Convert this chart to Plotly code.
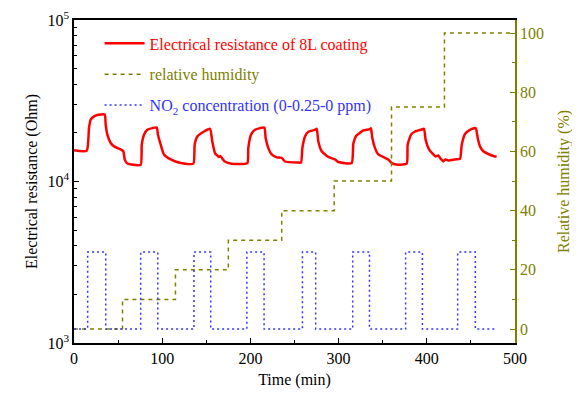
import plotly.graph_objects as go

# Electrical resistance of 8L coating (Ohm) vs time (min)
res_time = [0, 14.4, 17.0, 18.9, 22.7, 26.4, 34.8, 35.9, 37.8, 41.6, 45.4, 52.9, 55.9, 57.5, 59.8, 65, 75.6,
            76.8, 79.4, 83.1, 88.8, 93.8, 95.2, 98.3, 102, 109.6, 121, 135.3,
            136.8, 139.8, 147.4, 154.2, 156.8, 160, 162.5, 164, 166, 168, 171, 178.8, 196.5,
            197.6, 200.7, 205.2, 210.9, 215.8, 217.3, 220.3, 224.1, 229.8, 235.5, 239.2, 254.3, 257.4,
            258.9, 261.9, 265.7, 273.2, 275.2, 277, 280.8, 288.3, 295.9, 299.7, 314.8,
            316.7, 320, 324, 328, 335.6, 336.7, 338.2, 341.3, 345, 352.6, 356.3, 360.2, 367.7, 377.2,
            378.3, 382.1, 386.6, 394.2, 396.8, 398.7, 402.5, 407.4, 410, 413, 415, 417, 418.7, 421, 424.4, 432, 437.6,
            439.6, 443.3, 449, 455.4, 457.7, 460.3, 464, 469.7, 477.3, 479.2]
res_ohm = [15600, 15500, 21500, 24200, 25300, 25800, 26000, 22500, 19500, 17300, 16500, 15800, 15400, 13700, 13000, 12750, 12700,
           16900, 19500, 20900, 21400, 21600, 19500, 16900, 14700, 13700, 13000, 12900,
           16900, 19000, 20400, 21200, 17700, 14900, 14500, 14200, 14400, 13900, 13300, 12900, 13000,
           16100, 19500, 20900, 21400, 21600, 18600, 16100, 14700, 14100, 14000, 13300, 13100, 13100,
           16100, 19000, 20300, 20900, 21200, 17700, 15400, 14200, 13700, 13200, 13000,
           17200, 19200, 20000, 20700, 21100, 21400, 18600, 16100, 14700, 14000, 13700, 13000, 12700, 12900,
           16900, 19500, 20400, 21000, 21200, 18100, 15800, 14700, 14300, 14500, 14000, 13600, 13300, 13700, 13500, 13700, 13800,
           16900, 19700, 20900, 21400, 18600, 16500, 15400, 14800, 14300, 14300]

# Relative humidity (%) steps
rh_time = [0, 55, 115, 175, 235.5, 295, 360, 420, 497]
rh_level = [0, 10, 20, 30, 40, 50, 75, 100, 100]

# NO2 concentration pulses (drawn on the right scale)
no2_time = [0, 15.5, 36, 75.6, 95, 136, 155, 196, 215.5, 259, 274, 316, 335, 376, 395, 435, 455, 478]
no2_level = [0, 26, 0, 26, 0, 26, 0, 26, 0, 26, 0, 26, 0, 26, 0, 26, 0, 0]

# log-axis ticks
res_ticks = [1000, 10000, 100000]
res_ticktext = ["10<sup>3</sup>", "10<sup>4</sup>", "10<sup>5</sup>"]
log_minor = [m * 10 ** e for e in (3, 4) for m in range(2, 10)]

RED = "#ff0000"
OLIVE = "#808000"
BLUE = "#3333ff"
FONT = "Liberation Serif"
FS = 16

fig = go.Figure()
fig.add_trace(go.Scatter(
    x=res_time, y=res_ohm, mode="lines", line=dict(color=RED, width=2.5, shape="spline", smoothing=0.5),
    name=f'<span style="color:{RED}">Electrical resistance of 8L coating</span>',
    legendgroup="a"))
fig.add_trace(go.Scatter(
    x=rh_time, y=rh_level, mode="lines", line=dict(color=OLIVE, width=1.5, dash="4px,4px", shape="hv"),
    yaxis="y2", name=f'<span style="color:{OLIVE}">relative humidity</span>', legendgroup="b"))
fig.add_trace(go.Scatter(
    x=no2_time, y=no2_level, mode="lines", line=dict(color=BLUE, width=1.5, dash="2px,3px", shape="hv"),
    yaxis="y2", name=f'<span style="color:{BLUE}">NO<sub>2</sub> concentration (0-0.25-0 ppm)</span>',
    legendgroup="c"))

fig.update_layout(
    width=572, height=386,
    margin=dict(l=66, r=65, t=12, b=51, autoexpand=False),
    paper_bgcolor="white", plot_bgcolor="white",
    font=dict(family=FONT, size=FS, color="black"),
    showlegend=True,
    legend=dict(x=0.058, y=0.98, xanchor="left", yanchor="top", bgcolor="rgba(0,0,0,0)",
                font=dict(family=FONT, size=FS), tracegroupgap=7, itemwidth=40),
    xaxis=dict(range=[0, 500], dtick=100, ticks="inside", ticklen=5, tickcolor="black", automargin=False,
               showline=True, linecolor="black", linewidth=1.5, mirror=True, showgrid=False, zeroline=False,
               minor=dict(ticks="inside", ticklen=3, dtick=50, tickcolor="black"),
               title=dict(text="Time (min)", font=dict(size=FS), standoff=8),
               tickfont=dict(size=FS), ticklabeloverflow="allow"),
    yaxis=dict(type="log", range=[3, 5], tickmode="array", tickvals=res_ticks, ticktext=res_ticktext,
               ticks="inside", ticklen=5,
               tickcolor="black", showline=True, linecolor="black", linewidth=1.5, showgrid=False,
               zeroline=False, automargin=False, ticklabeloverflow="allow",
               minor=dict(ticks="inside", ticklen=3, tickmode="array", tickvals=log_minor, tickcolor="black"),
               title=dict(text="Electrical resistance (Ohm)", font=dict(size=FS), standoff=6),
               tickfont=dict(size=FS)),
    yaxis2=dict(overlaying="y", side="right", range=[-4.7, 104.4], dtick=20, ticks="inside", ticklen=5,
                tickcolor=OLIVE, showline=True, linecolor=OLIVE, linewidth=1.5, showgrid=False, zeroline=False,
                automargin=False, ticklabeloverflow="allow",
                minor=dict(ticks="inside", ticklen=3, dtick=10, tickcolor=OLIVE),
                tickfont=dict(size=FS, color=OLIVE),
                title=dict(text="Relative humidity (%)", font=dict(size=FS, color=OLIVE), standoff=15)),
)

fig.write_html("out.html")
